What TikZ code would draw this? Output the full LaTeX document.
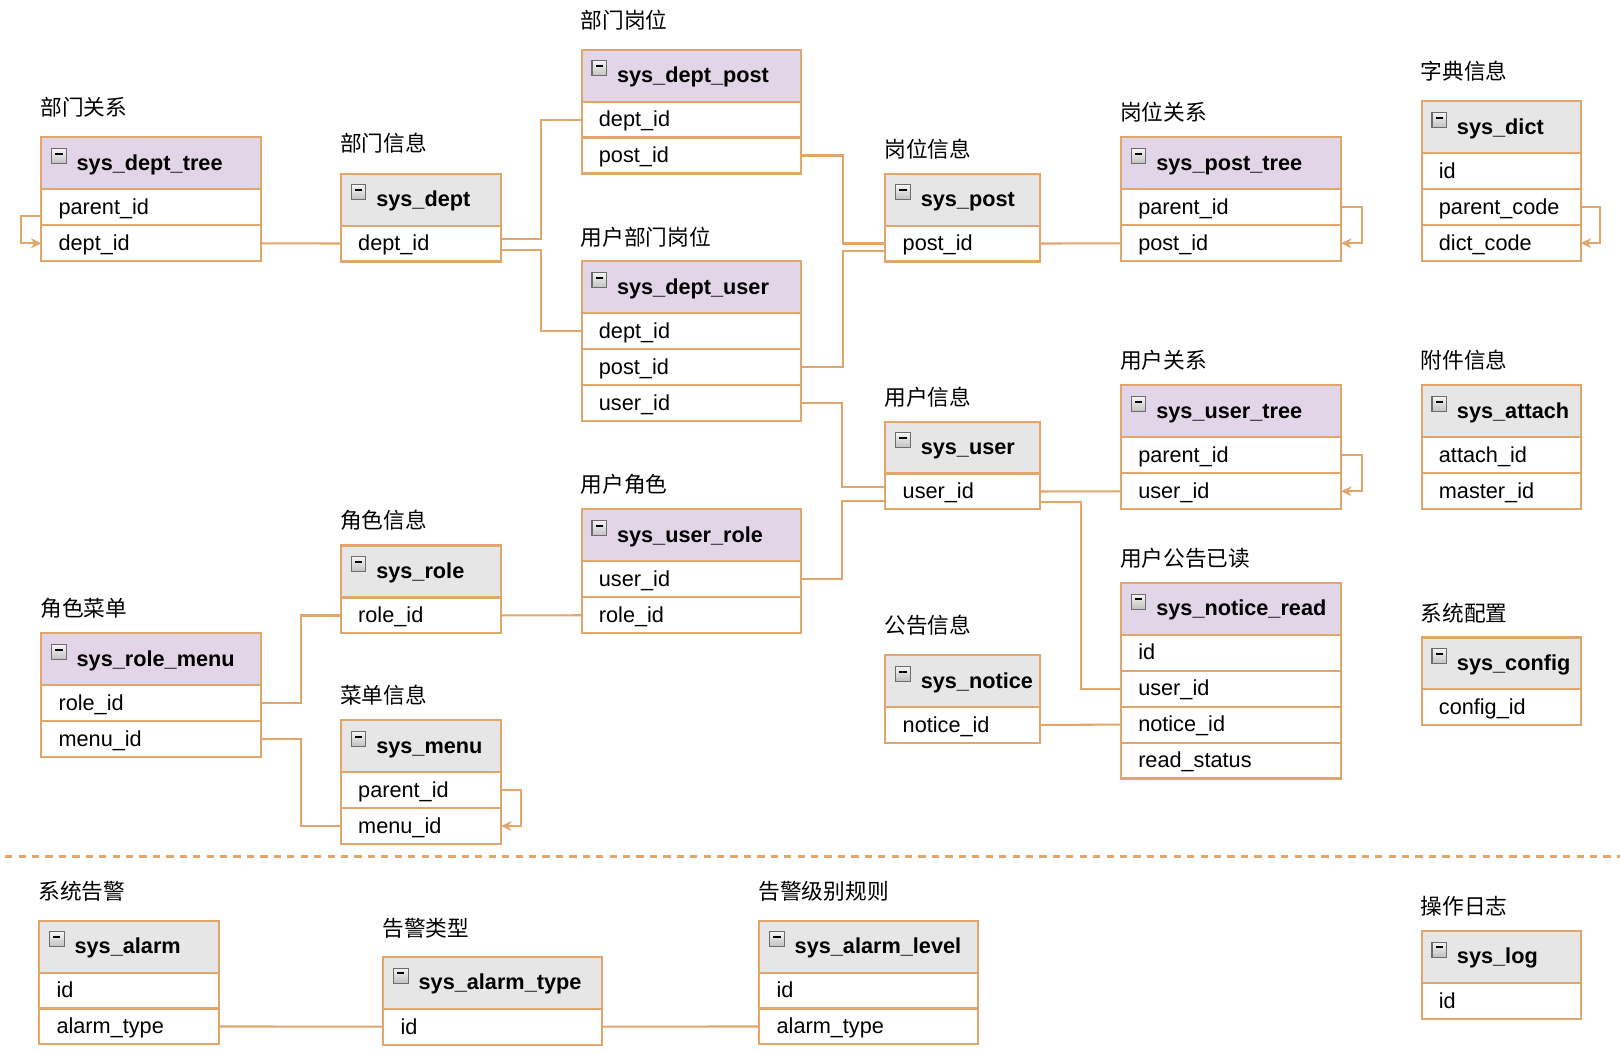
\documentclass[tikz,border=0pt]{standalone}
\usepackage{fontspec}
\setmainfont{Liberation Sans}
\newfontfamily\cjk{Noto Sans CJK SC}
\usetikzlibrary{calc,arrows.meta}
\definecolor{bord}{RGB}{226,166,108}
\definecolor{pinkh}{RGB}{225,213,231}
\definecolor{grayh}{RGB}{230,230,230}
\tikzset{
  ttl/.style={anchor=base west, inner sep=0pt, font=\cjk\fontsize{21}{25}\selectfont},
  hdrbox/.style={draw=bord, line width=2pt, anchor=north west, minimum height=50.3pt, inner sep=0pt, outer sep=0pt},
  rowbox/.style={draw=bord, line width=2pt, fill=white, anchor=north west, minimum height=34.8pt, inner sep=0pt, outer sep=0pt},
  icon/.style={anchor=north west, minimum width=14pt, minimum height=14.5pt, inner sep=0pt, draw=gray!85!black, line width=1pt, top color=gray!8, bottom color=gray!50,
    path picture={\draw[line width=2pt, black] ([xshift=3.5pt,yshift=-5pt]path picture bounding box.north west) -- ++(7pt,0);}},
  htxt/.style={anchor=base west, inner sep=0pt, font=\bfseries\fontsize{21}{25}\selectfont},
  rtxt/.style={anchor=base west, inner sep=0pt, font=\fontsize{21}{25}\selectfont},
  conn/.style={draw=bord, line width=2pt},
  selfref/.style={conn, -{Stealth[length=10pt,width=9.5pt,inset=3pt]}}
}
% #1 name, #2 x, #3 y, #4 width, #5 header fill, #6 title, #7 table name, #8 rows, #9 title baseline gap
\newcommand\erbox[9]{%
  \node[ttl] (#1-t) at (#2-1,#3-#9) {#6};
  \node[hdrbox, fill=#5, minimum width=#4pt] (#1-h) at (#2,#3) {};
  \node[icon] (#1-i) at (#2+9.5,#3+10.5) {};
  \node[htxt] (#1-n) at (#2+34,#3+32) {#7};
  \foreach \rowtext [count=\k] in {#8} {
    \node[rowbox, minimum width=#4pt] (#1-\k) at (#2,{#3+50.3+(\k-1)*34.8}) {};
    \node[rtxt] (#1-\k t) at (#2+16.5,{#3+50.3+(\k-1)*34.8+24.5}) {\rowtext};
  }
}
\begin{document}
\begin{tikzpicture}[x=1pt,y=-1pt]
\fill[white] (0,0) rectangle (1568,1018);
\useasboundingbox (0,0) rectangle (1568,1018);

\erbox{dtree}{40}{133}{213}{pinkh}{部门关系}{sys\_dept\_tree}{parent\_id,dept\_id}{21}
\erbox{dept}{330}{168}{155}{grayh}{部门信息}{sys\_dept}{dept\_id}{21}
\erbox{dpost}{563}{48}{212}{pinkh}{部门岗位}{sys\_dept\_post}{dept\_id,post\_id}{20}
\erbox{duser}{563}{253}{212}{pinkh}{用户部门岗位}{sys\_dept\_user}{dept\_id,post\_id,user\_id}{15.5}
\erbox{post}{857}{168}{150}{grayh}{岗位信息}{sys\_post}{post\_id}{16}
\erbox{ptree}{1085}{133}{213}{pinkh}{岗位关系}{sys\_post\_tree}{parent\_id,post\_id}{16}
\erbox{dict}{1376}{98}{154}{grayh}{字典信息}{sys\_dict}{id,parent\_code,dict\_code}{21}
\erbox{utree}{1085}{373}{213}{pinkh}{用户关系}{sys\_user\_tree}{parent\_id,user\_id}{16}
\erbox{user}{857}{408}{150}{grayh}{用户信息}{sys\_user}{user\_id}{16}
\erbox{attach}{1376}{373}{154}{grayh}{附件信息}{sys\_attach}{attach\_id,master\_id}{16}
\erbox{urole}{563}{493}{212}{pinkh}{用户角色}{sys\_user\_role}{user\_id,role\_id}{16}
\erbox{role}{330}{528}{155}{grayh}{角色信息}{sys\_role}{role\_id}{16}
\erbox{rmenu}{40}{613}{213}{pinkh}{角色菜单}{sys\_role\_menu}{role\_id,menu\_id}{16}
\erbox{menu}{330}{697}{155}{grayh}{菜单信息}{sys\_menu}{parent\_id,menu\_id}{16}
\erbox{notice}{857}{634}{150}{grayh}{公告信息}{sys\_notice}{notice\_id}{21}
\erbox{nread}{1085}{564}{213}{pinkh}{用户公告已读}{sys\_notice\_read}{id,user\_id,notice\_id,read\_status}{15.5}
\erbox{config}{1376}{617}{154}{grayh}{系统配置}{sys\_config}{config\_id}{15.5}
\erbox{alarm}{38}{891}{174}{grayh}{系统告警}{sys\_alarm}{id,alarm\_type}{20}
\erbox{atype}{371}{926}{212}{grayh}{告警类型}{sys\_alarm\_type}{id}{20}
\erbox{alevel}{735}{891}{212}{grayh}{告警级别规则}{sys\_alarm\_level}{id,alarm\_type}{20}
\erbox{log}{1376}{901}{154}{grayh}{操作日志}{sys\_log}{id}{15.5}

% connectors
\draw[conn] (dtree-2.east) -- (dept-1.west);
\draw[selfref] ($(dtree-1.west)+(0,8)$) -- ++(-20,0) |- (dtree-2.west);
\draw[conn] ($(dept-1.east)+(0,-4.4)$) -- ++(39,0) |- (dpost-1.west);
\draw[conn] ($(dept-1.east)+(0,6.5)$) -- ++(39,0) |- (duser-1.west);
\draw[conn] (dpost-2.east) -- ++(41,0) |- (post-1.west);
\draw[conn] (duser-2.east) -- ++(41,0) |- ($(post-1.west)+(0,7)$);
\draw[conn] (duser-3.east) -- ++(40,0) |- ($(user-1.west)+(0,-4.5)$);
\draw[conn] (urole-1.east) -- ++(40,0) |- ($(user-1.west)+(0,9.5)$);
\draw[conn] (post-1.east) -- (ptree-2.west);
\draw[selfref] (ptree-1.east) -- ++(20,0) |- (ptree-2.east);
\draw[selfref] (dict-2.east) -- ++(19,0) |- (dict-3.east);
\draw[conn] (user-1.east) -- (utree-2.west);
\draw[selfref] (utree-1.east) -- ++(20,0) |- (utree-2.east);
\draw[conn] ($(user-1.east)+(0,10.5)$) -- ++(39,0) |- (nread-2.west);
\draw[conn] (notice-1.east) -- (nread-3.west);
\draw[conn] (role-1.east) -- (urole-2.west);
\draw[conn] (role-1.west) -- ++(-38.5,0) |- (rmenu-1.east);
\draw[conn] (rmenu-2.east) -- ++(38.5,0) |- (menu-2.west);
\draw[selfref] (menu-1.east) -- ++(19.5,0) |- (menu-2.east);
\draw[conn] (alarm-2.east) -- (atype-1.west);
\draw[conn] (atype-1.east) -- (alevel-2.west);

\coordinate (dashL) at (5,829);
\coordinate (dashR) at (1568,829);
\draw[conn, dash pattern=on 7pt off 6pt] (dashL) -- (dashR);
\end{tikzpicture}
\end{document}
